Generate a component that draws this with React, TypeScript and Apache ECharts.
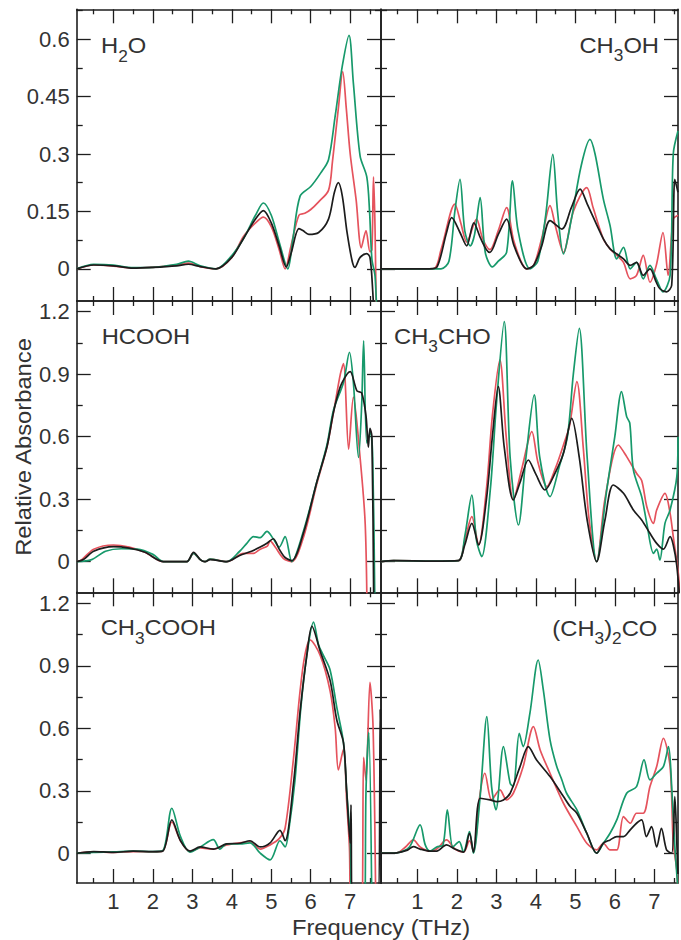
import React, { useEffect, useRef } from "react";
import * as echarts from "echarts";

type Pt = [number, number];

// ---- tick positions ----
const xMajor = [1, 2, 3, 4, 5, 6, 7];
const xMinor = [0.5, 1.5, 2.5, 3.5, 4.5, 5.5, 6.5, 7.5];
const yMajorTop = [0, 0.15, 0.3, 0.45, 0.6];
const yMinorTop = [0.075, 0.225, 0.375, 0.525, 0.675];
const yMajorLow = [0, 0.3, 0.6, 0.9, 1.2];
const yMinorLow = [0.15, 0.45, 0.75, 1.05];

// ---- H2O ----
const h2oBlack: Pt[] = [[0.07,0],[0.5,0.01],[1.0,0.008],[1.5,0.002],[2.0,0.004],[2.6,0.008],[2.9,0.012],[3.2,0.006],[3.6,0],[4.0,0.03],[4.3,0.08],[4.6,0.13],[4.8,0.152],[5.0,0.12],[5.2,0.06],[5.38,0.005],[5.5,0.04],[5.7,0.105],[5.8,0.1],[5.95,0.09],[6.2,0.095],[6.45,0.13],[6.6,0.2],[6.7,0.225],[6.8,0.19],[6.92,0.095],[7.05,0.02],[7.12,0.004],[7.25,0.03],[7.42,0.04],[7.5,0.03],[7.56,-0.04],[7.64,-0.2]];
const h2oRed: Pt[] = [[0.07,0],[0.5,0.01],[1.0,0.007],[1.5,0.002],[2.0,0.004],[2.6,0.01],[2.9,0.015],[3.2,0.006],[3.6,0],[4.0,0.03],[4.3,0.085],[4.6,0.12],[4.8,0.135],[5.0,0.11],[5.2,0.05],[5.35,0.0],[5.5,0.06],[5.7,0.14],[5.85,0.145],[6.0,0.155],[6.2,0.175],[6.45,0.205],[6.55,0.28],[6.7,0.42],[6.81,0.515],[6.9,0.42],[7.0,0.3],[7.15,0.18],[7.28,0.055],[7.4,0.1],[7.5,0.045],[7.55,0.05],[7.59,0.24],[7.63,0.1],[7.67,-0.2]];
const h2oGreen: Pt[] = [[0.07,0],[0.5,0.012],[1.0,0.01],[1.5,0.003],[2.0,0.004],[2.6,0.012],[2.9,0.02],[3.2,0.008],[3.6,0],[4.0,0.035],[4.3,0.08],[4.6,0.14],[4.8,0.172],[5.0,0.14],[5.2,0.07],[5.42,0.0],[5.55,0.08],[5.73,0.19],[6.0,0.215],[6.25,0.25],[6.45,0.285],[6.62,0.4],[6.8,0.53],[6.97,0.61],[7.08,0.485],[7.25,0.295],[7.42,0.24],[7.49,0.15],[7.55,0.025],[7.63,-0.02],[7.7,-0.2]];

// ---- CH3OH ----
const ch3ohBlack: Pt[] = [[0.08,0],[1.3,0],[1.5,0.005],[1.74,0.095],[1.87,0.134],[2.08,0.095],[2.25,0.06],[2.43,0.12],[2.6,0.08],[2.75,0.05],[2.84,0.043],[3.05,0.09],[3.26,0.13],[3.45,0.06],[3.77,0],[3.95,0.01],[4.15,0.06],[4.36,0.126],[4.66,0.104],[4.9,0.16],[5.12,0.208],[5.3,0.17],[5.71,0.078],[5.88,0.052],[6.05,0.039],[6.22,0.026],[6.39,0.009],[6.55,0.017],[6.72,-0.017],[6.89,0],[7.05,-0.035],[7.14,-0.052],[7.31,-0.06],[7.44,-0.043],[7.52,0.234],[7.6,0.2]];
const ch3ohRed: Pt[] = [[0.08,0],[1.4,0],[1.6,0.05],[1.95,0.169],[2.1,0.12],[2.25,0.07],[2.5,0.13],[2.65,0.08],[2.84,0.05],[3.05,0.1],[3.26,0.16],[3.45,0.07],[3.77,0],[3.95,0.01],[4.15,0.08],[4.36,0.165],[4.5,0.11],[4.7,0.043],[4.95,0.15],[5.29,0.212],[5.45,0.16],[5.71,0.078],[5.88,0.052],[6.05,0.035],[6.22,0.017],[6.39,-0.026],[6.55,-0.017],[6.72,0.035],[6.89,-0.035],[7.05,0.009],[7.22,0.095],[7.35,-0.017],[7.48,0.13],[7.6,0.14]];
const ch3ohGreen: Pt[] = [[0.08,0],[1.6,0],[1.8,0.02],[1.95,0.15],[2.08,0.234],[2.2,0.1],[2.34,0.06],[2.45,0.09],[2.59,0.186],[2.72,0.043],[2.9,0.005],[3.05,0.02],[3.26,0.043],[3.41,0.23],[3.55,0.1],[3.85,0],[4.05,0.02],[4.25,0.14],[4.43,0.299],[4.55,0.15],[4.7,0.039],[4.9,0.13],[5.15,0.27],[5.37,0.338],[5.5,0.3],[5.71,0.182],[5.88,0.113],[6.05,0.026],[6.22,0.056],[6.39,0],[6.55,0.017],[6.72,-0.026],[6.89,0.009],[7.05,-0.026],[7.22,-0.06],[7.4,-0.017],[7.48,0.3],[7.6,0.36]];

// ---- HCOOH ----
const hcoohBlack: Pt[] = [[0.07,0],[0.24,0.01],[0.5,0.05],[1.0,0.072],[1.4,0.065],[1.8,0.045],[2.27,0],[2.86,0],[3.03,0.045],[3.2,0.01],[3.32,0],[3.45,0.01],[3.87,0],[4.2,0.03],[4.5,0.05],[4.72,0.07],[4.9,0.09],[5.05,0.11],[5.2,0.06],[5.35,0.02],[5.52,0.005],[5.82,0.14],[6.15,0.38],[6.41,0.55],[6.58,0.72],[6.75,0.84],[6.92,0.9],[7.0,0.912],[7.17,0.82],[7.29,0.81],[7.4,0.7],[7.46,0.55],[7.5,0.64],[7.55,0.6],[7.6,-0.3]];
const hcoohRed: Pt[] = [[0.07,0],[0.2,0.01],[0.5,0.06],[1.0,0.08],[1.4,0.07],[1.8,0.045],[2.27,0],[2.86,0],[3.03,0.04],[3.2,0.01],[3.32,0],[3.45,0.012],[3.87,0],[4.3,0.04],[4.55,0.04],[4.72,0.06],[4.9,0.075],[4.97,0.1],[5.1,0.07],[5.31,0.015],[5.52,0],[5.82,0.12],[6.15,0.37],[6.41,0.55],[6.58,0.72],[6.75,0.9],[6.83,0.95],[6.96,0.54],[7.08,0.79],[7.25,0.5],[7.38,0.18],[7.43,-0.3]];
const hcoohGreen: Pt[] = [[0.07,0],[0.45,0.01],[0.8,0.05],[1.2,0.062],[1.6,0.06],[2.0,0.035],[2.27,0],[2.86,0],[3.03,0.04],[3.2,0.01],[3.32,0],[3.45,0.012],[3.87,0],[4.2,0.05],[4.38,0.088],[4.55,0.12],[4.72,0.115],[4.89,0.145],[5.05,0.11],[5.2,0.07],[5.35,0.12],[5.52,0],[5.82,0.15],[6.15,0.38],[6.41,0.56],[6.58,0.73],[6.83,0.86],[6.98,1.005],[7.08,0.86],[7.21,0.5],[7.29,0.75],[7.34,1.06],[7.42,0.57],[7.51,0.62],[7.57,0.5],[7.63,-0.3]];

// ---- CH3CHO ----
const ch3choBlack: Pt[] = [[0.08,0],[0.4,0.005],[1.4,0.003],[2.04,0.005],[2.2,0.08],[2.38,0.184],[2.55,0.08],[2.75,0.3],[2.9,0.6],[3.05,0.84],[3.2,0.55],[3.43,0.296],[3.6,0.38],[3.81,0.488],[4.0,0.42],[4.23,0.344],[4.5,0.43],[4.7,0.52],[4.91,0.688],[5.1,0.5],[5.3,0.2],[5.54,0],[5.75,0.2],[5.96,0.368],[6.22,0.328],[6.47,0.248],[6.68,0.2],[6.89,0.136],[7.06,0.088],[7.23,0.06],[7.4,0.12],[7.48,0.08],[7.57,-0.02],[7.65,-0.2]];
const ch3choRed: Pt[] = [[0.08,0],[0.4,0.005],[1.4,0.003],[2.04,0.005],[2.2,0.1],[2.38,0.216],[2.55,0.08],[2.75,0.35],[2.9,0.7],[3.09,0.968],[3.25,0.6],[3.43,0.296],[3.65,0.45],[3.9,0.624],[4.05,0.48],[4.28,0.36],[4.5,0.45],[4.7,0.56],[4.85,0.65],[5.04,0.864],[5.2,0.55],[5.35,0.2],[5.54,0],[5.75,0.3],[6.09,0.56],[6.3,0.504],[6.55,0.424],[6.68,0.39],[6.81,0.264],[6.98,0.184],[7.06,0.248],[7.27,0.328],[7.4,0.232],[7.48,0.12],[7.61,-0.06],[7.66,-0.2]];
const ch3choGreen: Pt[] = [[0.08,0],[0.4,0.005],[1.4,0.003],[2.04,0.005],[2.2,0.12],[2.38,0.32],[2.5,0.1],[2.63,0.024],[2.85,0.35],[3.0,0.75],[3.2,1.152],[3.35,0.5],[3.56,0.176],[3.75,0.5],[3.96,0.8],[4.1,0.5],[4.36,0.312],[4.6,0.46],[4.8,0.6],[4.95,0.9],[5.1,1.12],[5.3,0.5],[5.54,0],[5.8,0.35],[6.0,0.6],[6.17,0.816],[6.3,0.696],[6.38,0.664],[6.47,0.44],[6.68,0.312],[6.81,0.184],[6.98,0.04],[7.06,0.06],[7.14,0.008],[7.27,0.184],[7.4,0.248],[7.57,0.408],[7.6,0.6]];

// ---- CH3COOH ----
const ch3coohBlack: Pt[] = [[0.07,0],[0.5,0.008],[1.0,0.004],[1.5,0.01],[2.0,0.008],[2.25,0.01],[2.48,0.16],[2.7,0.06],[2.94,0.01],[3.2,0.03],[3.53,0.02],[3.87,0.045],[4.21,0.048],[4.46,0.06],[4.72,0.03],[4.97,0.05],[5.22,0.11],[5.35,0.06],[5.56,0.33],[5.73,0.68],[5.9,0.95],[6.03,1.09],[6.24,0.97],[6.49,0.83],[6.66,0.64],[6.83,0.53],[6.91,0.3],[7.0,0.05],[7.02,0.232],[7.06,-0.3],[7.7,-0.3],[7.76,0.69],[7.8,-0.3]];
const ch3coohRed: Pt[] = [[0.07,0],[0.5,0.006],[1.0,0.004],[1.5,0.008],[2.0,0.006],[2.25,0.01],[2.48,0.15],[2.7,0.06],[2.94,0.008],[3.2,0.025],[3.53,0.02],[3.87,0.04],[4.21,0.05],[4.46,0.055],[4.72,0.02],[4.97,0.04],[5.2,0.07],[5.35,0.12],[5.56,0.45],[5.73,0.78],[5.85,0.95],[5.98,1.025],[6.24,0.95],[6.49,0.78],[6.62,0.6],[6.7,0.4],[6.83,0.5],[6.91,0.25],[6.98,0.03],[7.03,-0.3],[7.28,-0.3],[7.34,0.46],[7.4,0.35],[7.5,0.82],[7.58,0.6],[7.65,-0.3]];
const ch3coohGreen: Pt[] = [[0.07,0],[0.5,0.004],[1.0,0.006],[1.5,0.01],[2.0,0.008],[2.25,0.012],[2.48,0.216],[2.7,0.08],[2.94,0.005],[3.2,0.03],[3.53,0.065],[3.7,0.02],[3.87,0.045],[4.21,0.045],[4.46,0.05],[4.72,0.0],[4.97,-0.032],[5.22,0.06],[5.35,0.03],[5.45,0.12],[5.6,0.35],[5.75,0.7],[5.9,0.95],[6.07,1.11],[6.2,1.0],[6.32,0.95],[6.49,0.88],[6.66,0.7],[6.83,0.53],[6.91,0.3],[7.0,0.06],[7.06,-0.3],[7.35,-0.3],[7.4,0.3],[7.47,0.58],[7.55,-0.3]];

// ---- (CH3)2CO ----
const acetoneBlack: Pt[] = [[0.08,0],[0.48,0.002],[0.75,0.015],[0.9,0.032],[1.07,0.02],[1.32,0.01],[1.49,0.01],[1.74,0.04],[1.95,0.02],[2.17,0.005],[2.32,0.096],[2.42,0.005],[2.59,0.264],[2.84,0.256],[3.01,0.248],[3.18,0.256],[3.35,0.288],[3.6,0.416],[3.81,0.512],[4.02,0.448],[4.36,0.368],[4.7,0.272],[4.87,0.224],[5.04,0.192],[5.29,0.096],[5.54,0],[5.71,0.048],[5.88,0.064],[6.05,0.08],[6.22,0.08],[6.39,0.112],[6.55,0.144],[6.68,0.16],[6.8,0.08],[6.93,0.128],[7.06,0.03],[7.18,0.12],[7.31,0.016],[7.44,0],[7.52,0.272],[7.57,0.05],[7.6,-0.1]];
const acetoneRed: Pt[] = [[0.08,0],[0.48,0.002],[0.7,0.03],[0.9,0.064],[1.07,0.03],[1.32,0.01],[1.49,0.02],[1.74,0.064],[1.95,0.02],[2.17,0.005],[2.32,0.06],[2.42,0.01],[2.59,0.288],[2.71,0.384],[2.88,0.256],[3.09,0.304],[3.26,0.256],[3.43,0.288],[3.68,0.416],[3.94,0.608],[4.11,0.496],[4.36,0.384],[4.7,0.24],[5.04,0.128],[5.29,0.048],[5.54,0.016],[5.71,0.048],[5.88,0.016],[6.05,0.016],[6.22,0.176],[6.39,0.144],[6.55,0.192],[6.72,0.192],[6.89,0.32],[7.06,0.416],[7.23,0.552],[7.4,0.416],[7.48,0.048],[7.57,-0.08],[7.6,-0.2]];
const acetoneGreen: Pt[] = [[0.08,0],[0.48,0.002],[0.8,0.03],[1.07,0.136],[1.2,0.04],[1.32,0.01],[1.49,0.03],[1.65,0.04],[1.76,0.208],[1.9,0.03],[2.06,0.056],[2.17,0.005],[2.32,0.104],[2.42,0.0],[2.59,0.272],[2.76,0.656],[2.88,0.32],[2.99,0.208],[3.18,0.512],[3.35,0.336],[3.43,0.32],[3.58,0.576],[3.68,0.512],[3.85,0.672],[4.06,0.928],[4.19,0.784],[4.36,0.544],[4.53,0.416],[4.66,0.352],[4.78,0.288],[5.04,0.208],[5.29,0.096],[5.54,0],[5.71,0.048],[5.88,0.096],[6.05,0.16],[6.3,0.288],[6.55,0.32],[6.74,0.448],[6.89,0.352],[7.06,0.384],[7.23,0.416],[7.36,0.512],[7.44,0.32],[7.52,0.032],[7.61,-0.2]];

// ---- styling ----
const FONT = '"Liberation Sans", Arial, Helvetica, sans-serif';
const AXIS = "#1e1e1e";
const TEXT = "#333333";
const RED = "#e5535d";
const GREEN = "#17996b";
const BLACK = "#1c1c1c";

const columns = [
  { left: 76.7, width: 304.3, min: 0.07, max: 7.78 },
  { left: 381, width: 297, min: 0.08, max: 7.6 },
];
const rows = [
  { top: 9.3, height: 291.7, min: -0.084, max: 0.678, major: yMajorTop, minor: yMinorTop },
  { top: 301, height: 291.3, min: -0.147, max: 1.251, major: yMajorLow, minor: yMinorLow },
  { top: 592.3, height: 290.7, min: -0.143, max: 1.253, major: yMajorLow, minor: yMinorLow },
];

const panels = [
  { row: 0, col: 0, lines: [h2oRed, h2oGreen, h2oBlack] },
  { row: 0, col: 1, lines: [ch3ohRed, ch3ohGreen, ch3ohBlack] },
  { row: 1, col: 0, lines: [hcoohRed, hcoohGreen, hcoohBlack] },
  { row: 1, col: 1, lines: [ch3choRed, ch3choGreen, ch3choBlack] },
  { row: 2, col: 0, lines: [ch3coohRed, ch3coohGreen, ch3coohBlack] },
  { row: 2, col: 1, lines: [acetoneRed, acetoneGreen, acetoneBlack] },
];
const lineColors = [RED, GREEN, BLACK];

const labelStyle = {
  fontSize: 22,
  fontFamily: FONT,
  color: TEXT,
};

function makeAxis(
  dim: "x" | "y",
  gridIndex: number,
  min: number,
  max: number,
  position: string,
  ticks: number[],
  tickLen: number,
  drawLine: boolean,
  labels: number[] | null
) {
  return {
    type: "value",
    gridIndex,
    min,
    max,
    position,
    axisLine: {
      show: drawLine,
      onZero: false,
      lineStyle: { color: AXIS, width: 1.6 },
    },
    axisTick: {
      show: true,
      inside: true,
      length: tickLen,
      customValues: ticks,
      lineStyle: { color: AXIS, width: 1.3 },
    },
    minorTick: { show: false },
    splitLine: { show: false },
    axisLabel: labels
      ? {
          show: true,
          customValues: labels,
          margin: 7,
          formatter: (v: number) => String(v),
          ...labelStyle,
        }
      : { show: false },
  };
}

function buildOption() {
  const grid: any[] = [];
  const xAxis: any[] = [];
  const yAxis: any[] = [];
  const series: any[] = [];

  panels.forEach((p, g) => {
    const c = columns[p.col];
    const r = rows[p.row];
    grid.push({
      left: c.left,
      width: c.width,
      top: r.top,
      height: r.height,
      containLabel: false,
      outerBoundsMode: "none",
    });
    const bottomLabels = p.row === 2 ? xMajor : null;
    const leftLabels = p.col === 0 ? r.major : null;
    // four x axes (bottom/top, major/minor) and four y axes (left/right, major/minor) per panel
    xAxis.push(makeAxis("x", g, c.min, c.max, "bottom", xMajor, 14, true, bottomLabels));
    xAxis.push(makeAxis("x", g, c.min, c.max, "bottom", xMinor, 5, false, null));
    xAxis.push(makeAxis("x", g, c.min, c.max, "top", xMajor, 14, true, null));
    xAxis.push(makeAxis("x", g, c.min, c.max, "top", xMinor, 5, false, null));
    yAxis.push(makeAxis("y", g, r.min, r.max, "left", r.major, 14, true, leftLabels));
    yAxis.push(makeAxis("y", g, r.min, r.max, "left", r.minor, 6, false, null));
    yAxis.push(makeAxis("y", g, r.min, r.max, "right", r.major, 14, true, null));
    yAxis.push(makeAxis("y", g, r.min, r.max, "right", r.minor, 6, false, null));

    p.lines.forEach((data, k) => {
      series.push({
        type: "line",
        xAxisIndex: g * 4,
        yAxisIndex: g * 4,
        data,
        showSymbol: false,
        smooth: 0.3,
        clip: true,
        silent: true,
        lineStyle: { color: lineColors[k], width: 1.7 },
      });
    });
  });

  const rich = {
    m: { fontSize: 22, fontFamily: FONT, fill: TEXT, verticalAlign: "top" },
    s: { fontSize: 16, fontFamily: FONT, fill: TEXT, verticalAlign: "top", padding: [14, 0, 0, 0] },
  };
  const formula = (text: string, x: number, y: number, align: string) => ({
    type: "text",
    x,
    y,
    scaleX: 1.08,
    silent: true,
    style: {
      text,
      rich,
      fill: TEXT,
      fontSize: 22,
      fontFamily: FONT,
      align,
      textAlign: align,
      verticalAlign: "top",
      textVerticalAlign: "top",
    },
  });

  const graphic = [
    formula("{m|H}{s|2}{m|O}", 101, 34.5, "left"),
    formula("{m|CH}{s|3}{m|OH}", 659, 34, "right"),
    formula("{m|HCOOH}", 101.7, 325, "left"),
    formula("{m|CH}{s|3}{m|CHO}", 394, 325, "left"),
    formula("{m|CH}{s|3}{m|COOH}", 100.7, 616.5, "left"),
    formula("{m|(CH}{s|3}{m|)}{s|2}{m|CO}", 657.3, 617, "right"),
    {
      type: "text",
      x: 381,
      y: 927,
      scaleX: 1.08,
      silent: true,
      style: {
        text: "Frequency (THz)",
        fill: TEXT,
        fontSize: 22,
        fontFamily: FONT,
        align: "center",
        textAlign: "center",
        verticalAlign: "middle",
        textVerticalAlign: "middle",
      },
    },
    {
      type: "text",
      x: 23,
      y: 447,
      rotation: Math.PI / 2,
      scaleX: 1.08,
      silent: true,
      style: {
        text: "Relative Absorbance",
        fill: TEXT,
        fontSize: 22,
        fontFamily: FONT,
        align: "center",
        textAlign: "center",
        verticalAlign: "middle",
        textVerticalAlign: "middle",
      },
    },
  ];

  return {
    animation: false,
    backgroundColor: "#ffffff",
    grid,
    xAxis,
    yAxis,
    series,
    graphic,
  };
}

export default function App() {
  const ref = useRef<HTMLDivElement>(null);
  useEffect(() => {
    if (!ref.current) return;
    const chart = echarts.init(ref.current, undefined, { renderer: "svg" });
    chart.setOption(buildOption() as any);
    return () => chart.dispose();
  }, []);
  return (
    <div
      ref={ref}
      style={{ position: "absolute", left: 0, top: 0, width: 681, height: 940, background: "#fff" }}
    />
  );
}
